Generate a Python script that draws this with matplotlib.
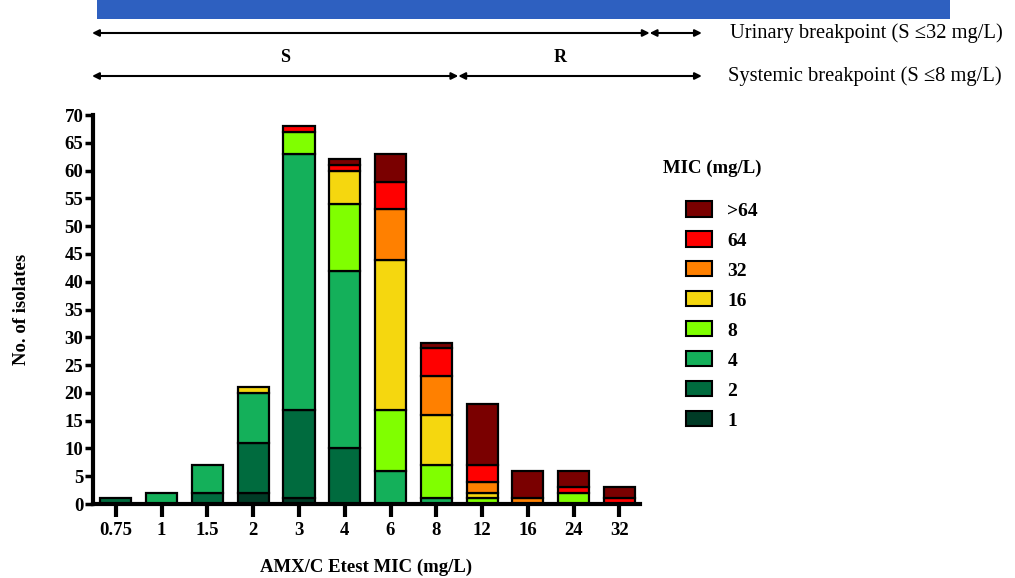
import numpy as np
import matplotlib
matplotlib.use("Agg")
import matplotlib.pyplot as plt
from matplotlib.patches import Rectangle, Patch

plt.rcParams['font.family'] = ['Liberation Serif', 'DejaVu Serif']

# x categories (Etest MIC of AMX/C)
cats = ['0.75', '1', '1.5', '2', '3', '4', '6', '8', '12', '16', '24', '32']

# stacked counts, bottom to top
mic_1 = [0, 0, 0, 2, 1, 0, 0, 0, 0, 0, 0, 0]
mic_2 = [1, 0, 2, 9, 16, 10, 0, 0, 0, 0, 0, 0]
mic_4 = [0, 2, 5, 9, 46, 32, 6, 1, 0, 0, 0, 0]
mic_8 = [0, 0, 0, 0, 4, 12, 11, 6, 1, 0, 2, 0]
mic_16 = [0, 0, 0, 1, 0, 6, 27, 9, 1, 0, 0, 0]
mic_32 = [0, 0, 0, 0, 0, 0, 9, 7, 2, 1, 0, 0]
mic_64 = [0, 0, 0, 0, 1, 1, 5, 5, 3, 0, 1, 1]
mic_gt64 = [0, 0, 0, 0, 0, 1, 5, 1, 11, 5, 3, 2]

series_labels = ['1', '2', '4', '8', '16', '32', '64', '>64']
series = [mic_1, mic_2, mic_4, mic_8, mic_16, mic_32, mic_64, mic_gt64]
colors = ['#003b26', '#006b3e', '#14b05a', '#80ff00', '#f5d70f', '#ff8000', '#ff0000', '#7a0000']

fig = plt.figure(figsize=(10.15, 5.78), dpi=100)
ax = fig.add_axes([0.0916, 0.128, 0.539, 0.673])

x = np.arange(len(cats))
bottom = np.zeros(len(cats))
for vals, col in zip(series, colors):
    h = np.array(vals, dtype=float)
    lw = np.where(h > 0, 1.6, 0)
    ax.bar(x, h, 0.68, bottom=bottom, color=col, edgecolor='black', linewidth=lw, zorder=2)
    bottom += h

ax.set_xlim(-0.5, 11.45)
ax.set_ylim(0, 70)
ax.set_yticks(np.arange(0, 71, 5))
ax.set_xticks(x)
ax.set_xticklabels(cats)
for s in ['top', 'right']:
    ax.spines[s].set_visible(False)
for s in ['left', 'bottom']:
    ax.spines[s].set_linewidth(3)
ax.tick_params(axis='y', direction='out', length=6, width=2.5, pad=1, labelsize=13.5)
ax.tick_params(axis='x', direction='out', length=9, width=3, pad=4, labelsize=13.5)
for lab in ax.get_xticklabels() + ax.get_yticklabels():
    lab.set_fontweight('bold')

ax.set_ylabel('No. of isolates', fontsize=13.5, fontweight='bold', labelpad=25)
ax.set_xlabel('AMX/C Etest MIC (mg/L)', fontsize=13.5, fontweight='bold', labelpad=14)

# legend, top entry is >64
handles = [Patch(facecolor=c, edgecolor='black', linewidth=1.5) for c in colors[::-1]]
fig.legend(handles, series_labels[::-1], loc='upper left', bbox_to_anchor=(0.668, 0.665),
           frameon=False, prop={'size': 14, 'weight': 'bold'},
           handlelength=1.34, handleheight=0.82, labelspacing=0.6, handletextpad=0.8,
           borderaxespad=0)
fig.text(663 / 1015, 1 - 168 / 578, 'MIC (mg/L)', ha='left', va='center',
         fontsize=13.5, fontweight='bold')

# breakpoint arrows
def bp_arrow(x0, x1, yf):
    ax.annotate('', xy=(x1, yf), xytext=(x0, yf), xycoords=('data', 'figure fraction'),
                textcoords=('data', 'figure fraction'),
                arrowprops=dict(arrowstyle='<|-|>', color='black', lw=1.5,
                                mutation_scale=10, shrinkA=0, shrinkB=0))

y_sys = 1 - 76 / 578
y_uri = 1 - 33 / 578
bp_arrow(-0.52, 7.48, y_sys)
bp_arrow(7.48, 12.8, y_sys)
bp_arrow(-0.52, 11.66, y_uri)
bp_arrow(11.66, 12.8, y_uri)

def bp_text(xv, yf, s, **kw):
    ax.annotate(s, xy=(xv, yf), xycoords=('data', 'figure fraction'), **kw)

bp_text(3.7, 1 - 58 / 578, 'S', ha='center', va='center', fontsize=13, fontweight='bold')
bp_text(9.7, 1 - 58 / 578, 'R', ha='center', va='center', fontsize=13, fontweight='bold')
bp_text(3.7, 1 - 12 / 578, 'S', ha='center', va='center', fontsize=13, fontweight='bold')
bp_text(12.2, 1 - 13 / 578, 'R', ha='center', va='center', fontsize=13, fontweight='bold')
fig.text(728 / 1015, y_sys, 'Systemic breakpoint (S \u22648 mg/L)', ha='left', va='center', fontsize=14.8)
fig.text(730 / 1015, y_uri, 'Urinary breakpoint (S \u226432 mg/L)', ha='left', va='center', fontsize=14.8)

# blue banner at the top edge
fig.patches.append(Rectangle((97 / 1015, 1 - 19 / 578), 853 / 1015, 19 / 578,
                             transform=fig.transFigure, facecolor='#2e60c0',
                             edgecolor='none', zorder=5))

fig.savefig('out.png', dpi=100)
